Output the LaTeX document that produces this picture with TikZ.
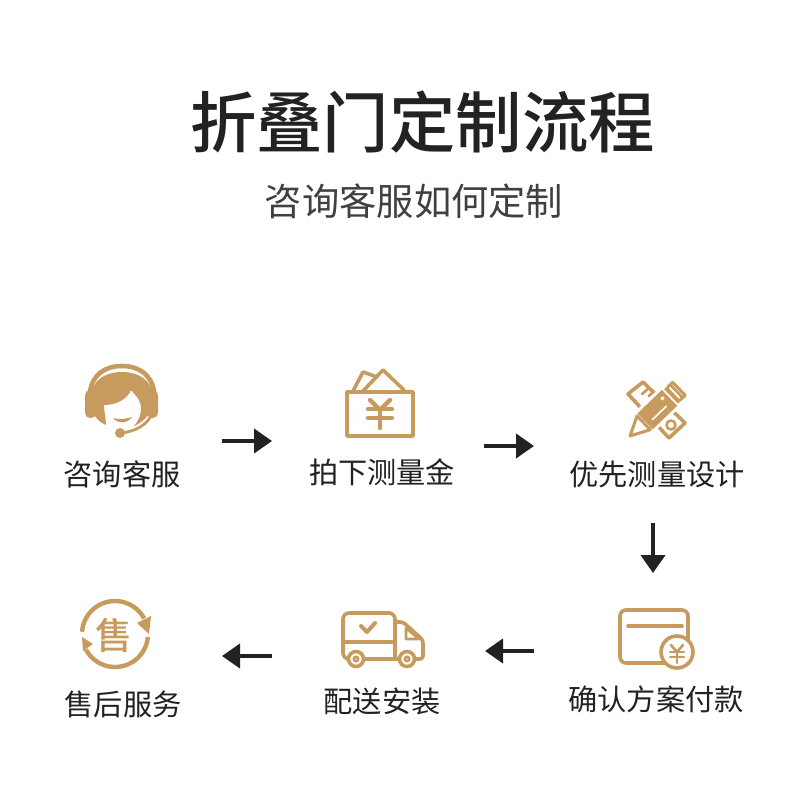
\documentclass[tikz,border=0pt]{standalone}
\usepackage{fontspec}
\usepackage{xcolor}
\usetikzlibrary{arrows.meta}
\setmainfont{Noto Sans CJK SC}
\newfontfamily\mediumfont{Noto Sans CJK SC Medium}
\definecolor{gold}{RGB}{199,155,93}
\definecolor{ink}{RGB}{34,34,34}
\definecolor{subink}{RGB}{64,64,64}
\tikzset{
  steplabel/.style={text=ink, inner sep=0pt, font=\fontsize{29.2}{29.2}\selectfont},
  flowarrow/.style={ink, line width=4pt, -{Triangle[length=18pt,width=24pt]}},
  iconline/.style={gold, line width=3.6pt, line cap=round, line join=round},
  iconthin/.style={gold, line width=2.6pt, line cap=round, line join=round},
}
\begin{document}
\begin{tikzpicture}[x=1pt, y=-1pt]
  \useasboundingbox (0,0) rectangle (800,800);
  \fill[white] (0,0) rectangle (800,800);

  % Title
  \node[inner sep=0pt, text=ink, font=\fontsize{66.4}{66.4}\selectfont\mediumfont] (title) at (422.5,122) {折叠门定制流程};
  \node[inner sep=0pt, text=subink, font=\fontsize{37.3}{37.3}\selectfont] (subtitle) at (414,201) {咨询客服如何定制};

  % Step labels
  \node[steplabel] (zixun) at (122,474) {咨询客服};
  \node[steplabel] (paidan) at (382,472) {拍下测量金};
  \node[steplabel] (sheji) at (657,474) {优先测量设计};
  \node[steplabel] (fukuan) at (656,699) {确认方案付款};
  \node[steplabel] (anzhuang) at (382,701) {配送安装};
  \node[steplabel] (shouhou) at (123,704) {售后服务};

  % Arrows
  \foreach \name/\xa/\ya/\xb/\yb in {one/222/441/272/441, two/484/446/534/446, three/653/523/653/573, four/534/651/485/651, five/272/656/222/656} {
    \coordinate (\name s) at (\xa,\ya);
    \coordinate (\name e) at (\xb,\yb);
    \draw[flowarrow] (\name s) -- (\name e);
  }

  % Headset
  \fill[gold] (122,372) .. controls (105,372) and (93,380) .. (90,396) .. controls (89,410) and (96,421) .. (106,425)
    .. controls (106,418) and (104,412) .. (104,405) .. controls (118,405) and (128,398) .. (131,390)
    .. controls (136,396) and (141,400) .. (141,408) .. controls (141,415) and (139,420) .. (134,426)
    .. controls (144,422) and (154,412) .. (154,396) .. controls (151,380) and (139,372) .. (122,372) -- cycle;
  \fill[gold, rounded corners=5pt] (85,390) rectangle (96,418);
  \fill[gold, rounded corners=5pt] (147,390) rectangle (158,418);
  \draw[gold, line width=4.6pt] (90,392) .. controls (92,375) and (105,366) .. (122,366) .. controls (139,366) and (152,375) .. (154,392);
  \draw[gold, line width=2.8pt] (120,433) .. controls (135,432) and (148,425) .. (153,412);
  \fill[gold] (120,433) circle (5pt);
  \fill[gold] (113,418) .. controls (118,424) and (127,424) .. (132,417) .. controls (126,419) and (119,420) .. (113,418) -- cycle;

  % Money envelope
  \draw[iconline] (353,391) -- (363,372) -- (377,377);
  \draw[iconline] (363,391) -- (383,370) -- (404,390);
  \draw[iconline] (347,392) rectangle (413,436);
  \draw[iconline, line width=4.4pt] (370,400) -- (380,410) -- (390,400);
  \draw[iconline, line width=4.4pt] (368,409) -- (392,409) (368,418) -- (392,418) (380,409) -- (380,428);

  % Ruler and pencil
  \draw[iconline] (628,394) -- (643,382) -- (685,423) -- (669,438) -- cycle;
  \draw[iconthin] (649,388) -- (642,394) (653,392) -- (649,396) (658,397) -- (651,403);
  \draw[iconthin] (671,425) circle (4.5pt);
  \begin{scope}[shift={(630,436)}, rotate=44]
    \fill[white] (-3,0) -- (18,-14) -- (73,-14) -- (73,14) -- (18,14) -- cycle;
    \draw[iconline, line width=3pt] (0,0) -- (19,-9.5) -- (19,9.5) -- cycle;
    \fill[gold] (21,-11) rectangle (55,11);
    \fill[white] (27,3) rectangle (47,4.6);
    \fill[white] (48,-6) rectangle (51,-3);
    \fill[gold] (57,-10) rectangle (61,10);
    \draw[iconline, line width=3pt] (61,-9) -- (68,-9) -- (68,9) -- (61,9);
    \draw[iconthin] (64.5,-8) -- (64.5,8);
  \end{scope}

  % Card
  \draw[iconline, rounded corners=6pt] (620,610) rectangle (688,663);
  \draw[iconline] (628,626) -- (682,626);
  \draw[iconline, fill=white] (677,652) circle (16pt);
  \draw[iconthin] (671,645) -- (677,652) -- (683,645);
  \draw[iconthin] (670,652) -- (684,652) (670,657) -- (684,657) (677,652) -- (677,663);

  % Truck
  \draw[iconline, rounded corners=6pt] (347,659) -- (343,659) -- (343,613) -- (395,613) -- (395,659);
  \draw[iconline] (343,642) -- (395,642);
  \draw[iconline] (364,659) -- (399,659);
  \draw[iconline, rounded corners=3pt] (395,622) -- (403,622) -- (423,640) -- (423,659) -- (415,659);
  \draw[iconthin] (406,628) -- (406,639) -- (419,639) -- cycle;
  \draw[iconline, line width=4pt] (361,626) -- (367,632) -- (375,623);
  \foreach \wx in {356,407} {
    \draw[iconline, fill=white] (\wx,659) circle (7.5pt);
    \draw[iconthin] (\wx,659) circle (2.2pt);
  }

  % After-sale ring
  \coordinate (ring) at (115,634);
  \draw[gold, line width=4.4pt] (ring) ++(176:33pt) arc[start angle=176, end angle=28, radius=33pt];
  \fill[gold] (149,634) -- (137,623) -- (151,616) -- cycle;
  \draw[gold, line width=4.4pt] (ring) ++(-5:33pt) arc[start angle=-5, end angle=-152, radius=33pt];
  \fill[gold] (82,637) -- (93,644) -- (83,651) -- cycle;
  \node[inner sep=0pt, text=gold, font=\fontsize{37}{37}\selectfont\mediumfont] (shou) at (114,635) {售};
\end{tikzpicture}
\end{document}
